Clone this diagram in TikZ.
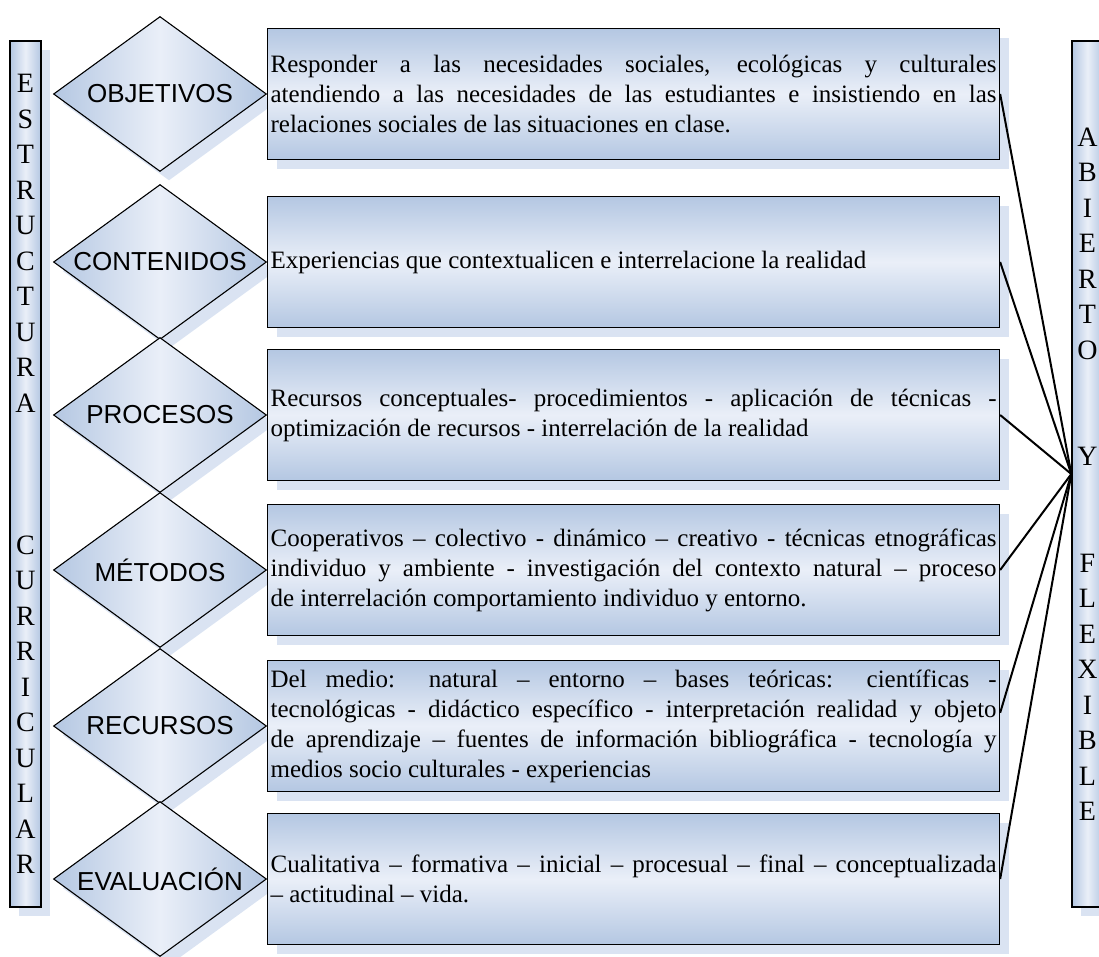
\documentclass[tikz,border=0pt]{standalone}
\usepackage{fontspec}
\setmainfont{Liberation Serif}
\newfontfamily\arialfont{Liberation Sans}
\usepackage{tikz}
\usetikzlibrary{positioning,shapes.geometric,shadows,calc}
\definecolor{stepdark}{RGB}{180,199,226}
\definecolor{steplight}{RGB}{234,239,248}
\definecolor{shadowblue}{RGB}{218,227,242}
\tolerance=10000
\hbadness=10000

\tikzset{
  blueshadow/.style={drop shadow={shadow xshift=9pt, shadow yshift=-9pt, fill=shadowblue, opacity=1}},
  sidebar/.style={draw, line width=1.4pt, blueshadow, left color=stepdark, right color=stepdark, middle color=steplight,
    minimum width=31pt, minimum height=866pt, inner sep=0pt, align=center, font=\fontsize{28}{35.5}\selectfont},
  topic/.style={diamond, draw, line width=1.1pt, blueshadow, left color=stepdark, right color=stepdark, middle color=steplight,
    shape aspect=1.37, minimum width=213pt, minimum height=155pt, inner sep=0pt, font=\arialfont\fontsize{26}{30}\selectfont},
  textbox/.style={rectangle, draw, line width=1.1pt, blueshadow, top color=stepdark, bottom color=stepdark, middle color=steplight,
    minimum width=732pt, minimum height=131pt, text width=726pt, inner xsep=3pt, align=justify, font=\fontsize{25}{30}\selectfont},
  link/.style={line width=2pt}
}

\begin{document}
\begin{tikzpicture}[x=1pt, y=-1pt]

\useasboundingbox (0,0) rectangle (1099,956);

% Side bars
\node[sidebar] (estructura) at (25.5, 474) {E\\S\\T\\R\\U\\C\\T\\U\\R\\A\\[106.5pt]C\\U\\R\\R\\I\\C\\U\\L\\A\\R};
\node[sidebar] (abierto) at (1087.5, 474) {A\\B\\I\\E\\R\\T\\O\\[71pt]Y\\[71pt]F\\L\\E\\X\\I\\B\\L\\E};

% Objetivos
\node[topic] (obj) at (160, 94) {OBJETIVOS};
\node[textbox, right=0pt of obj] (bobj) {Responder a las necesidades sociales, ecológicas y culturales\linebreak
  atendiendo a las necesidades de las estudiantes e insistiendo en las\linebreak
  relaciones sociales de las situaciones en clase.};

% Contenidos
\node[topic] (cont) at (160, 262) {CONTENIDOS};
\node[textbox, right=0pt of cont] (bcont) {Experiencias que contextualicen e interrelacione la realidad};

% Procesos
\node[topic] (proc) at (160, 415) {PROCESOS};
\node[textbox, right=0pt of proc] (bproc) {Recursos conceptuales- procedimientos - aplicación de técnicas -\linebreak
  optimización de recursos - interrelación de la realidad};

% Metodos
\node[topic] (met) at (160, 570) {MÉTODOS};
\node[textbox, right=0pt of met] (bmet) {Cooperativos – colectivo - dinámico – creativo - técnicas etnográficas\linebreak
  individuo y ambiente - investigación del contexto natural – proceso\linebreak
  de interrelación comportamiento individuo y entorno.};

% Recursos
\node[topic] (rec) at (160, 726) {RECURSOS};
\node[textbox, right=0pt of rec] (brec) {Del medio: natural – entorno – bases teóricas: científicas -\linebreak
  tecnológicas - didáctico específico - interpretación realidad y objeto\linebreak
  de aprendizaje – fuentes de información bibliográfica - tecnología y\linebreak
  medios socio culturales - experiencias};

% Evaluacion
\node[topic] (eva) at (160, 879) {EVALUACIÓN};
\node[textbox, right=0pt of eva] (beva) {Cualitativa – formativa – inicial – procesual – final – conceptualizada\linebreak
  – actitudinal – vida.};

% Links to the right bar
\draw[link] (bobj.east) -- (abierto.west);
\draw[link] (bcont.east) -- (abierto.west);
\draw[link] (bproc.east) -- (abierto.west);
\draw[link] (bmet.east) -- (abierto.west);
\draw[link] ($(brec.north east)!0.4!(brec.south east)$) -- (abierto.west);
\draw[link] (beva.east) -- (abierto.west);

\end{tikzpicture}
\end{document}
